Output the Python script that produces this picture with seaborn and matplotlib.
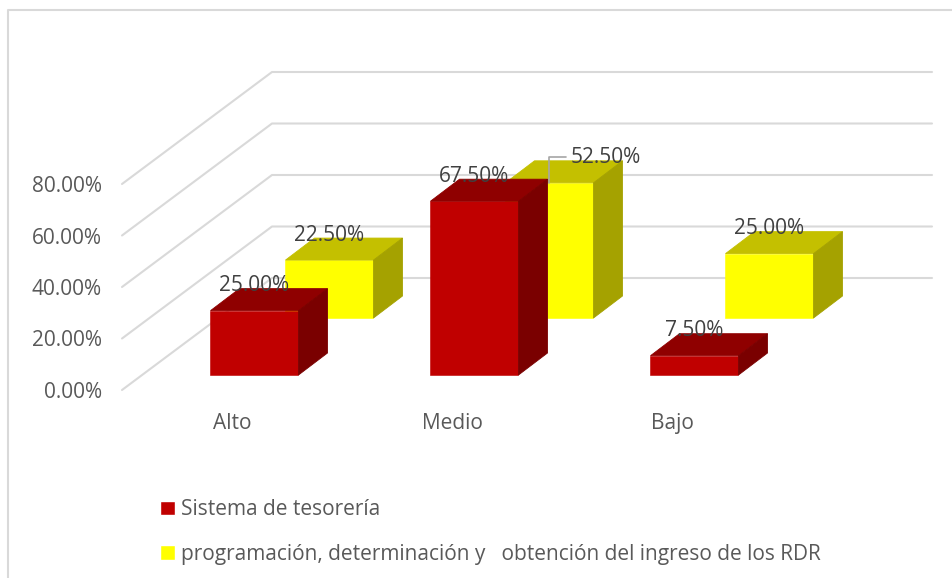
import matplotlib
matplotlib.use("Agg")
import matplotlib.pyplot as plt
import pandas as pd
import seaborn as sns
from matplotlib.lines import Line2D
from matplotlib.patches import Patch, Polygon
from matplotlib.transforms import IdentityTransform, offset_copy

# Data
CATEGORIES = ["Alto", "Medio", "Bajo"]
TESORERIA = [25.0, 67.5, 7.5]
INGRESO = [22.5, 52.5, 25.0]
SERIES_NAMES = [
    "Sistema de tesorería",
    "programación, determinación y   obtención del ingreso de los RDR",
]
Y_TICKS = [0, 20, 40, 60, 80]

# Look of the fake 3D box, everything in pixels
W, H = 953, 578
WALL_DX, WALL_DY = 150, 112   # front of the floor to the back wall
BAR_DX, BAR_DY = 29, 22       # depth of one bar
RED_SHIFT = (22.5, 15)
YELLOW_SHIFT = (97.5, 72)
GRID = "#D9D9D9"
TICK_TEXT = "#595959"
LABEL_TEXT = "#404040"
RED = ("#C00000", "#8F0000", "#7A0000")       # front, top, side
YELLOW = ("#FFFF00", "#C4C000", "#A5A200")
FONT_SIZE = 15

sns.set_theme(style="white")
plt.rcParams["font.family"] = ["Open Sans", "DejaVu Sans"]

fig = plt.figure(figsize=(W / 100, H / 100), dpi=100)
ax = fig.add_axes([122 / W, (H - 390) / H, 660 / W, 206 / H])

data = pd.DataFrame({"cat": CATEGORIES, "red": TESORERIA, "yellow": INGRESO})

# Front faces come from seaborn, yellow first so red sits in front of it
sns.barplot(data=data, x="cat", y="yellow", color=YELLOW[0], saturation=1,
            width=0.4, ax=ax, zorder=3, clip_on=False)
yellow_bars = ax.containers[-1]
sns.barplot(data=data, x="cat", y="red", color=RED[0], saturation=1,
            width=0.4, ax=ax, zorder=4, clip_on=False)
red_bars = ax.containers[-1]

# Limits have to be fixed before any pixel position is worked out
ax.set_xlim(-0.5, 2.5)
ax.set_ylim(0, 80)
ax.set_xlabel("")
ax.set_ylabel("")
ax.set_yticks(Y_TICKS)
ax.set_yticklabels([f"{v:.2f}%" for v in Y_TICKS])
ax.tick_params(axis="y", length=0, pad=14.5, labelsize=FONT_SIZE, labelcolor=TICK_TEXT)
ax.tick_params(axis="x", length=0, pad=16.5, labelsize=FONT_SIZE, labelcolor=TICK_TEXT)
sns.despine(ax=ax, left=True, bottom=True)


def add_faces(bars, colors, shift, zorder):
    """Move the front faces back by shift and add top and side for each bar."""
    moved = offset_copy(ax.transData, fig=fig, x=shift[0], y=shift[1], units="dots")
    for bar in bars:
        x0, y0 = ax.transData.transform((bar.get_x(), 0))
        x1, y1 = ax.transData.transform((bar.get_x() + bar.get_width(), bar.get_height()))
        x0, x1 = x0 + shift[0], x1 + shift[0]
        y0, y1 = y0 + shift[1], y1 + shift[1]
        top = [(x0, y1), (x1, y1), (x1 + BAR_DX, y1 + BAR_DY), (x0 + BAR_DX, y1 + BAR_DY)]
        side = [(x1, y0), (x1 + BAR_DX, y0 + BAR_DY), (x1 + BAR_DX, y1 + BAR_DY), (x1, y1)]
        for pts, col in ((top, colors[1]), (side, colors[2])):
            ax.add_patch(Polygon(pts, closed=True, facecolor=col, edgecolor=col, lw=0.6,
                                 transform=IdentityTransform(), zorder=zorder, clip_on=False))
        bar.set_transform(moved)
        bar.set_edgecolor(colors[0])
        bar.set_linewidth(0.4)


add_faces(yellow_bars, YELLOW, YELLOW_SHIFT, 3)
add_faces(red_bars, RED, RED_SHIFT, 4)

# Side wall and back wall grid
for v in Y_TICKS:
    x0, y0 = ax.transData.transform((-0.5, v))
    ax.add_line(Line2D([x0, x0 + WALL_DX, 932], [y0, y0 + WALL_DY, y0 + WALL_DY],
                       color=GRID, lw=1.5, transform=IdentityTransform(),
                       zorder=1, clip_on=False))


def add_label(bar, shift, value, text_dx=0):
    px = ax.transData.transform((bar.get_x() + bar.get_width() / 2, bar.get_height()))
    ax.annotate(f"{value:.2f}%", xy=(px[0] + shift[0], px[1] + shift[1]),
                xycoords=IdentityTransform(), xytext=(text_dx, 25),
                textcoords="offset pixels", ha="center", va="center",
                fontsize=FONT_SIZE, color=LABEL_TEXT, zorder=6, annotation_clip=False)
    return px[0] + shift[0], px[1] + shift[1]


for bar, value in zip(yellow_bars, INGRESO):
    # the Medio label is pulled aside with a leader line
    text_dx = 56 if value == max(INGRESO) else 0
    x, y = add_label(bar, YELLOW_SHIFT, value, text_dx)
    if text_dx:
        ax.add_line(Line2D([x, x, x + 17], [y, y + 26, y + 26], color="#A6A6A6", lw=1.2,
                           transform=IdentityTransform(), zorder=3.5, clip_on=False))
for bar, value in zip(red_bars, TESORERIA):
    add_label(bar, RED_SHIFT, value)

# Legend
handles = [Patch(facecolor=RED[0], label=SERIES_NAMES[0]),
           Patch(facecolor=YELLOW[0], label=SERIES_NAMES[1])]
fig.legend(handles=handles, loc="lower left", bbox_to_anchor=(160 / W, (H - 565) / H),
           frameon=False, fontsize=FONT_SIZE, labelcolor=TICK_TEXT, borderpad=0, borderaxespad=0,
           handlelength=0.7, handleheight=0.7, handletextpad=0.3, labelspacing=1.13)

# Chart frame, only top and left fall inside the crop
fig.add_artist(Line2D([8 / W, 8 / W, 1], [0, (H - 10) / H, (H - 10) / H], color=GRID, lw=1.5))

fig.savefig("out.png", dpi=100)
